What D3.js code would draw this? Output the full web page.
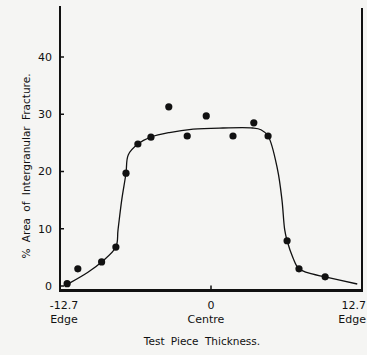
<!DOCTYPE html>
<html>
<head>
<meta charset="utf-8">
<script src="https://cdn.jsdelivr.net/npm/d3@7"></script>
<style>
  html, body { margin: 0; padding: 0; background: #f5f5f3; }
  svg { display: block; }
  text { font-family: "DejaVu Sans", sans-serif; fill: #111; }
</style>
</head>
<body>
<svg id="chart" width="367" height="355"></svg>
<script>
// measured points (position across thickness in mm, % intergranular)
var pointX = [-12.1, -11.2, -9.2, -8.0, -7.15, -6.15, -5.05, -3.55, -2.0, -0.4, 1.85, 3.6, 4.8, 6.4, 7.4, 9.6];
var pointY = [0.4, 3.0, 4.2, 6.8, 19.7, 24.8, 26.0, 31.3, 26.2, 29.7, 26.2, 28.5, 26.2, 7.9, 3.0, 1.6];

// hand-drawn trend curve
var curveX = [-11.9, -10.35, -9.2, -8.0, -7.82, -7.51, -7.15, -6.96, -6.15, -5.05, -3.5, -1.5, 1.0, 3.5, 4.2, 4.8, 5.6, 5.97, 6.2, 6.4, 6.9, 7.4, 8.5, 9.6, 12.3];
var curveY = [0.5, 2.4, 4.2, 6.8, 9.8, 15.0, 19.7, 22.9, 24.8, 26.0, 26.8, 27.4, 27.6, 27.6, 27.3, 26.2, 20.3, 15.0, 9.8, 7.9, 4.9, 3.0, 2.1, 1.6, 0.35];

var yTicks = [0, 10, 20, 30, 40];
var xTickVals = [-12.7, 0, 12.7];
var xTickNames = ["-12.7", "0", "12.7"];
var xTickSubs = ["Edge", "Centre", "Edge"];

var svg = d3.select("#chart");

var x = d3.scaleLinear().domain([-12.7, 12.7]).range([60, 362]);
var y = d3.scaleLinear().domain([0, 40]).range([286, 57]);

var axisY = y(-0.8);

// frame: left axis, right edge line, bottom axis
svg.append("line")
    .attr("x1", x(-12.7)).attr("x2", x(-12.7))
    .attr("y1", 6).attr("y2", axisY + 1)
    .attr("stroke", "#111").attr("stroke-width", 2);
svg.append("line")
    .attr("x1", x(12.7)).attr("x2", x(12.7))
    .attr("y1", 8).attr("y2", axisY + 1)
    .attr("stroke", "#111").attr("stroke-width", 2);
svg.append("line")
    .attr("x1", x(-12.7) - 1).attr("x2", x(12.7) + 1)
    .attr("y1", axisY).attr("y2", axisY)
    .attr("stroke", "#111").attr("stroke-width", 3);

// y ticks (inward) and labels
var yt = svg.append("g");
yt.selectAll("line").data(yTicks).enter().append("line")
    .attr("x1", x(-12.7)).attr("x2", x(-12.7) + 4)
    .attr("y1", function(d) { return y(d); })
    .attr("y2", function(d) { return y(d); })
    .attr("stroke", "#111").attr("stroke-width", 1.5);
yt.selectAll("text").data(yTicks).enter().append("text")
    .attr("x", x(-12.7) - 8)
    .attr("y", function(d) { return y(d); })
    .attr("dy", "0.36em")
    .attr("text-anchor", "end")
    .attr("font-size", 11)
    .text(function(d) { return d; });

// x tick at centre
svg.append("line")
    .attr("x1", x(0)).attr("x2", x(0))
    .attr("y1", axisY).attr("y2", axisY - 5)
    .attr("stroke", "#111").attr("stroke-width", 1.5);

// tick labels: edge labels hug the window edges
var anchors = ["middle", "middle", "end"];
var xt = svg.append("g");
xt.selectAll("text.num").data(xTickVals).enter().append("text")
    .attr("class", "num")
    .attr("x", function(d, i) { return i == 2 ? 366 : x(d) + (i == 0 ? 4 : 0); })
    .attr("y", 309)
    .attr("text-anchor", function(d, i) { return anchors[i]; })
    .attr("font-size", 11)
    .text(function(d, i) { return xTickNames[i]; });
xt.selectAll("text.sub").data(xTickVals).enter().append("text")
    .attr("class", "sub")
    .attr("x", function(d, i) { return i == 2 ? 366 : x(d) + (i == 0 ? 4 : -5); })
    .attr("y", 323)
    .attr("text-anchor", function(d, i) { return anchors[i]; })
    .attr("font-size", 11)
    .text(function(d, i) { return xTickSubs[i]; });

// axis titles
svg.append("text")
    .attr("x", 202).attr("y", 345)
    .attr("text-anchor", "middle")
    .attr("font-size", 10.5)
    .attr("word-spacing", 3)
    .text("Test Piece Thickness.");

svg.append("text")
    .attr("transform", "translate(30,166) rotate(-90)")
    .attr("text-anchor", "middle")
    .attr("font-size", 10.5)
    .attr("word-spacing", 3)
    .text("% Area of Intergranular Fracture.");

// curve
var line = d3.line()
    .x(function(d, i) { return x(curveX[i]); })
    .y(function(d, i) { return y(curveY[i]); })
    .curve(d3.curveCatmullRom.alpha(0.5));

svg.append("path")
    .datum(curveX)
    .attr("fill", "none")
    .attr("stroke", "#111")
    .attr("stroke-width", 1.3)
    .attr("d", line);

// points
svg.selectAll("circle").data(pointX).enter().append("circle")
    .attr("cx", function(d) { return x(d); })
    .attr("cy", function(d, i) { return y(pointY[i]); })
    .attr("r", 3.6)
    .attr("fill", "#111");
</script>
</body>
</html>
